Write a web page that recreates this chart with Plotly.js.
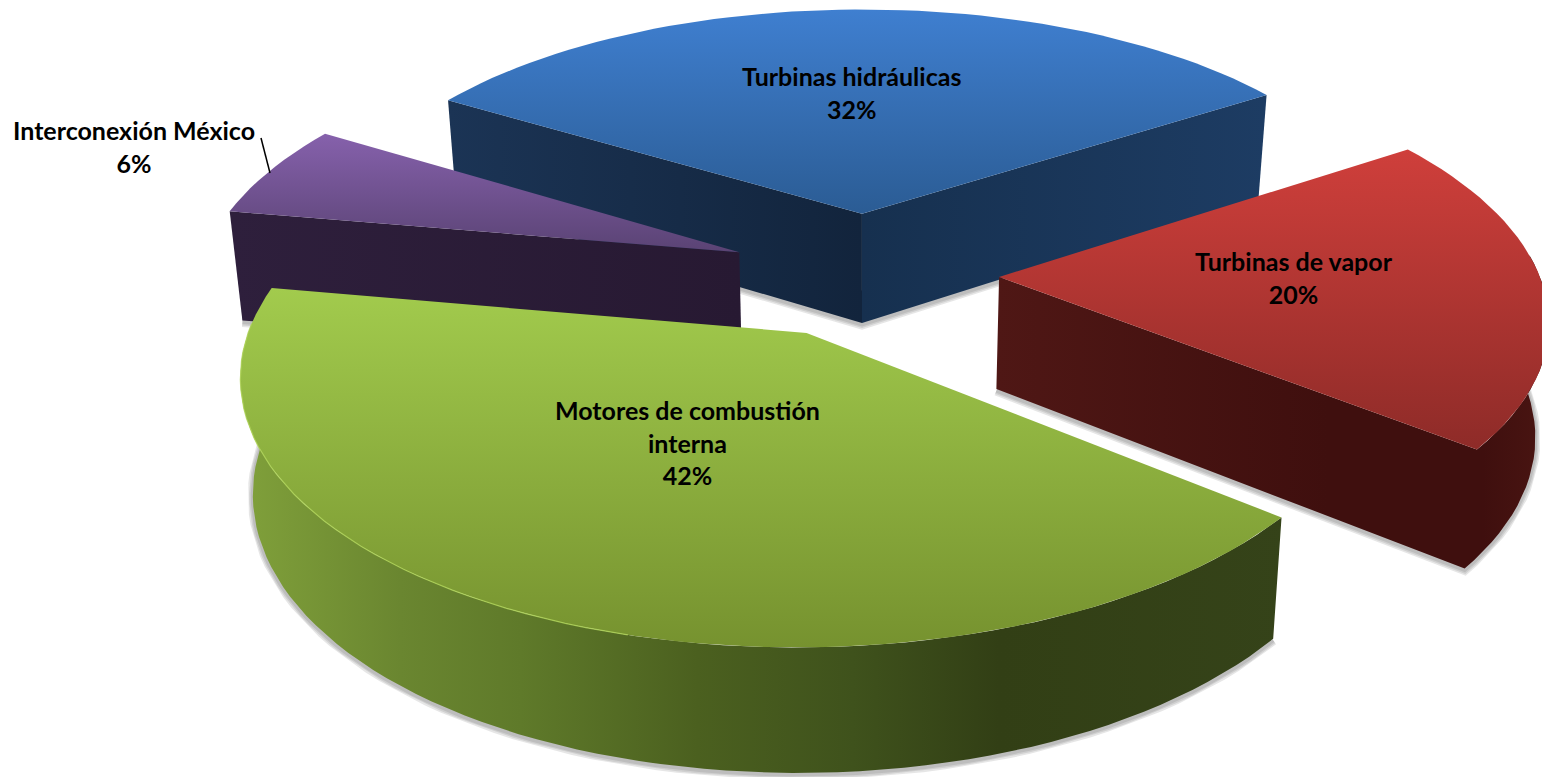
<!DOCTYPE html>
<html>
<head>
<meta charset="utf-8">
<script src="https://cdn.plot.ly/plotly-3.0.1.min.js"></script>
<style>html,body{margin:0;padding:0;background:#fff}#chart{width:1542px;height:777px}</style>
</head>
<body>
<div id="chart"></div>
<script>
// ---- chart data ----
const categories = ["Turbinas hidráulicas", "Turbinas de vapor", "Motores de combustión<br>interna", "Interconexión México"];
const shares = [32, 20, 42, 6];
const firstSliceAngle = -58.5;

// ---- styles ----
const topColors = [["#3f7fd0","#2b5c94"],["#cf3f3b","#8e2b28"],["#a2cb4d","#76922f"],["#8661ac","#5a4374"]];
const labelCentres = [[851,92.5],[1294,277.5],[687,442],[134,146]];

// ---- exploded-pie projection (perspective view of a tilted disc) ----
const view = {cx:864, cy:274, A:540, B:250, k:0.145, pull:0.25};
function project(X, Y, z) {
  const s = 1 / (1 + view.k * Y);
  const shrink = 1 - 0.02 * z;
  const depth = 112 - 11 * Y;
  return [view.cx + view.A * X * s * shrink, view.cy - view.B * Y * s + z * depth];
}
const rad = d => d * Math.PI / 180;
function slicePt(mid, ang, r, z) {
  return project(view.pull * Math.sin(rad(mid)) + r * Math.sin(rad(ang)),
                 view.pull * Math.cos(rad(mid)) + r * Math.cos(rad(ang)), z);
}
function arc(mid, a0, a1, z) {
  const pts = [], n = Math.max(2, Math.round(Math.abs(a1 - a0) / 2));
  for (let i = 0; i <= n; i++) pts.push(slicePt(mid, a0 + (a1 - a0) * i / n, 1, z));
  return pts;
}
function poly(pts, colors, horizontal, start, stop) {
  const xs = pts.map(p => p[0]), ys = pts.map(p => p[1]);
  xs.push(xs[0]); ys.push(ys[0]);
  const scale = colors.map((c, i) => Array.isArray(c) ? c : [i / (colors.length - 1), c]);
  return {x: xs, y: ys, mode: "lines", fill: "toself", line: {width: 0}, hoverinfo: "skip", showlegend: false,
    fillcolor: "rgba(0,0,0,0)",
    fillgradient: {type: horizontal ? "horizontal" : "vertical", colorscale: scale,
      start: start !== undefined ? start : (horizontal ? Math.min(...xs) : Math.min(...ys)),
      stop: stop !== undefined ? stop : (horizontal ? Math.max(...xs) : Math.max(...ys))}};
}
function shadow(pts) {
  return [10, 7, 4].map(w => ({x: pts.map(p => p[0]), y: pts.map(p => p[1] + 1.5), mode: "lines",
    line: {color: "rgba(60,60,60,0.13)", width: w}, hoverinfo: "skip", showlegend: false}));
}

// slice angular extents from the values
let acc = firstSliceAngle;
const slices = shares.map(v => { const a0 = acc; acc += v * 3.6; return {a0, a1: acc, mid: (a0 + acc) / 2}; });
const [blue, red, green, purple] = slices;

function radialWall(s, ang, colors) {
  const apexT = slicePt(s.mid, ang, 0, 0), apexB = slicePt(s.mid, ang, 0, 1);
  const endT = slicePt(s.mid, ang, 1, 0), endB = slicePt(s.mid, ang, 1, 1);
  return poly([apexT, endT, endB, apexB], colors, true);
}
function radialBottom(s, ang) { return [slicePt(s.mid, ang, 0, 1), slicePt(s.mid, ang, 1, 1)]; }
function outerWall(s, a0, a1, colors, start, stop) {
  return poly(arc(s.mid, a0, a1, 0).concat(arc(s.mid, a0, a1, 1).reverse()), colors, true, start, stop);
}
function sliceTop(s, i) {
  return poly([slicePt(s.mid, s.a0, 0, 0)].concat(arc(s.mid, s.a0, s.a1, 0)), topColors[i], false);
}

const traces = [];
// blue (back)
traces.push(...shadow(radialBottom(blue, blue.a0).reverse().concat(radialBottom(blue, blue.a1).slice(1))));
traces.push(radialWall(blue, blue.a0, ["#1b3455", "#12243c"]));
traces.push(radialWall(blue, blue.a1, ["#16304f", "#1d3c63"]));
traces.push(sliceTop(blue, 0));
// purple
traces.push(...shadow(radialBottom(purple, purple.a0)));
traces.push(radialWall(purple, purple.a0, ["#2e1f3c", "#271932"]));
traces.push(sliceTop(purple, 3));
// red: radial front wall and curved outer wall form one surface
traces.push(...shadow(radialBottom(red, red.a1).concat(arc(red.mid, red.a1, 85, 1))));
traces.push(poly(
  [slicePt(red.mid, red.a1, 0, 0)].concat(arc(red.mid, red.a1, 85, 0), arc(red.mid, 85, red.a1, 1), [slicePt(red.mid, red.a1, 0, 1)]),
  [[0,"#4f1715"],[0.6,"#3f0f0e"],[0.88,"#3f0f0e"],[1,"#4a1512"]], true));
traces.push(sliceTop(red, 1));
// green (front)
traces.push(...shadow(arc(green.mid, green.a0, 275, 1)));
traces.push(outerWall(green, green.a0, 272,
  [[0,"#7f9f3a"],[0.145,"#6a8630"],[0.26,"#5f7a2a"],[0.43,"#4b601f"],[0.58,"#3f521c"],[0.72,"#323f15"],[1,"#354319"]], 250, 1290));
traces.push(sliceTop(green, 2));
const rim = arc(green.mid, 195, 272, 0);
traces.push({x: rim.map(p => p[0]), y: rim.map(p => p[1]), mode: "lines",
  line: {color: "rgba(176,212,90,0.8)", width: 1.2}, hoverinfo: "skip", showlegend: false});
// leader line of the smallest slice
traces.push({x: [261, 270], y: [138, 173], mode: "lines", line: {color: "#000", width: 1.5}, hoverinfo: "skip", showlegend: false});

const annotations = categories.map((c, i) => ({
  x: labelCentres[i][0], y: labelCentres[i][1], xref: "x", yref: "y", showarrow: false,
  text: "<b>" + c + "<br>" + shares[i] + "%</b>", align: "center",
  font: {family: "Lato, Carlito, sans-serif", size: 25, color: "#000"}
}));

Plotly.newPlot("chart", traces, {
  width: 1542, height: 777, margin: {l: 0, r: 0, t: 0, b: 0},
  paper_bgcolor: "#fff", plot_bgcolor: "#fff", showlegend: false, hovermode: false,
  xaxis: {range: [0, 1542], visible: false, fixedrange: true},
  yaxis: {range: [777, 0], visible: false, fixedrange: true},
  annotations
}, {displayModeBar: false, staticPlot: true});
</script>
</body>
</html>
